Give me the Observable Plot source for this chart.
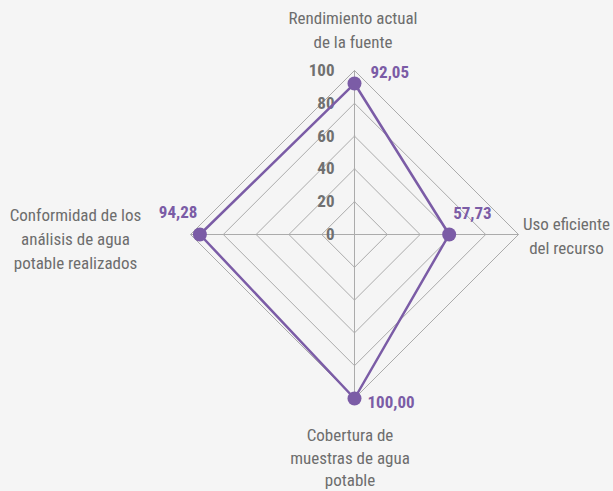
<!DOCTYPE html>
<html><head><meta charset="utf-8">
<script src="https://cdn.jsdelivr.net/npm/d3@7"></script>
<script src="https://cdn.jsdelivr.net/npm/@observablehq/plot@0.6"></script>
<style>
html,body{margin:0;padding:0;background:#f5f5f5;}
#chart svg{display:block;background:#f5f5f5;}
</style></head>
<body><div id="chart"></div>
<script>
const categories = ["Rendimiento actual\nde la fuente", "Uso eficiente\ndel recurso", "Cobertura de\nmuestras de agua\npotable", "Conformidad de los\nanálisis de agua\npotable realizados"];
const values = [92.05, 57.73, 100.00, 94.28];
const valueLabels = ["92,05", "57,73", "100,00", "94,28"];
const levels = [20, 40, 60, 80, 100];
const tickLabels = ["0", "20", "40", "60", "80", "100"];
const tickValues = [0, 20, 40, 60, 80, 100];

const W = 613, H = 491, CX = 354, CY = 234, K = 1.64; // px per unit
const n = categories.length;
const ang = i => i * 2 * Math.PI / n;
const px = (i, r) => r * Math.sin(ang(i));
const py = (i, r) => r * Math.cos(ang(i));

const gridPts = levels.flatMap(l => d3.range(n + 1).map(i => ({level: l, x: px(i % n, l), y: py(i % n, l)})));
const spokes = categories.map((c, i) => ({x1: 0, y1: 0, x2: px(i, 100), y2: py(i, 100)}));
const pts = values.map((v, i) => ({x: px(i, v), y: py(i, v), label: valueLabels[i], i}));
const loop = [...pts, pts[0]];

const catOff = [{dx: -1.5, dy: -42, lh: 1.41}, {dx: 48, dy: 0, lh: 1.41}, {dx: -4.5, dy: 58, lh: 1.33}, {dx: -115, dy: 3, lh: 1.41}];
const valOff = [{dx: 16, dy: -11, a: "start"}, {dx: 4, dy: -21, a: "start"}, {dx: 13, dy: 4, a: "start"}, {dx: -2.5, dy: -22, a: "end"}];

const purple = "#7b5ca6";
const font = "'Roboto Condensed', Roboto, sans-serif";

const chart = Plot.plot({
  width: W, height: H, margin: 0,
  style: {background: "#f5f5f5", fontFamily: font},
  x: {domain: [-CX / K, (W - CX) / K], axis: null},
  y: {domain: [-(H - CY) / K, CY / K], axis: null},
  marks: [
    Plot.line(gridPts, {x: "x", y: "y", z: "level", stroke: "#ababab", strokeWidth: 1}),
    Plot.link(spokes, {x1: "x1", y1: "y1", x2: "x2", y2: "y2", stroke: "#ababab", strokeWidth: 1}),
    Plot.text(tickValues, {x: 0, y: d => d, text: (d, i) => tickLabels[i], dx: -20, textAnchor: "end", fontSize: 17, fontWeight: "bold", fill: "#707070"}),
    Plot.line(loop, {x: "x", y: "y", stroke: purple, strokeWidth: 2.5}),
    Plot.dot(pts, {x: "x", y: "y", r: 7, fill: purple, stroke: "none"}),
    ...pts.map((p, i) => Plot.text([p], {x: "x", y: "y", text: "label", dx: valOff[i].dx, dy: valOff[i].dy, textAnchor: valOff[i].a, fontSize: 17, fontWeight: "bold", fill: purple})),
    ...categories.map((c, i) => Plot.text([c], {x: px(i, 100), y: py(i, 100), text: d => d, dx: catOff[i].dx, dy: catOff[i].dy, textAnchor: "middle", lineAnchor: "middle", lineHeight: catOff[i].lh, fontSize: 17, fill: "#6d6d6d"}))
  ]
});
document.getElementById("chart").appendChild(chart);
</script></body></html>
